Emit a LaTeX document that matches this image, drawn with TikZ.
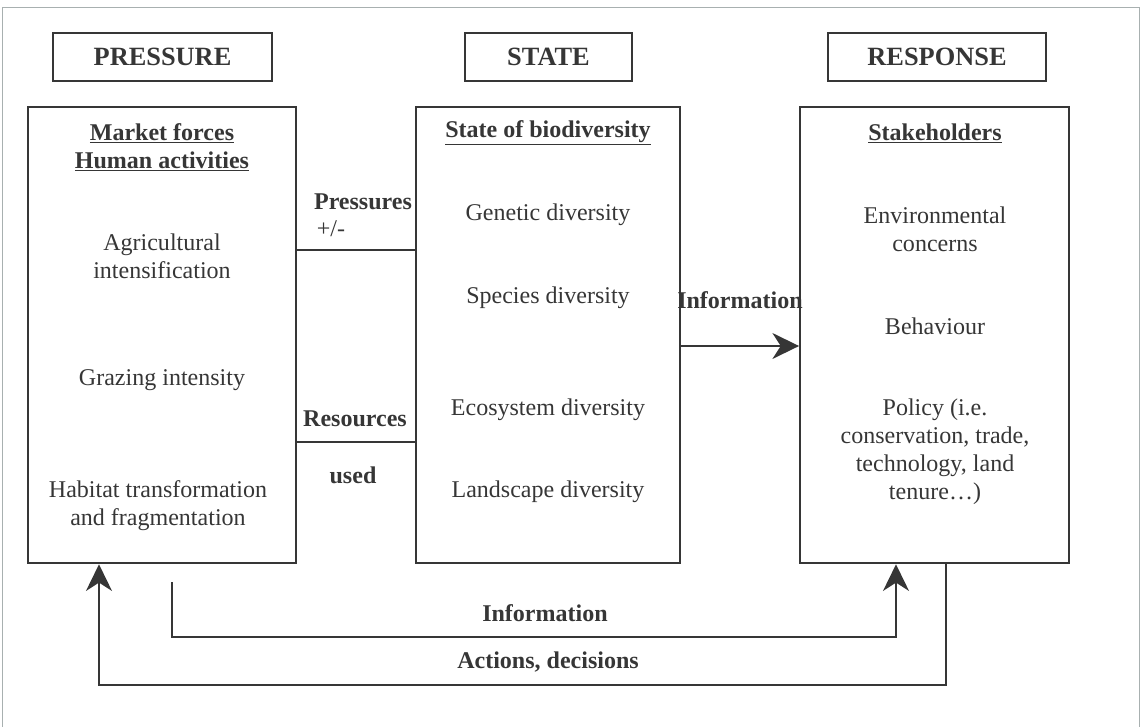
\documentclass[tikz,border=0pt]{standalone}
\usepackage{fontspec}
\setmainfont{Liberation Serif}
\usetikzlibrary{arrows.meta}
\definecolor{ink}{HTML}{363636}
\definecolor{frame}{HTML}{A8B0B0}
\begin{document}
\begin{tikzpicture}[x=0.03cm,y=-0.03cm,
    hdr/.style={draw=ink, line width=1.6pt, minimum height=1.44cm, inner sep=0pt,
                font=\fontsize{22.5}{26}\selectfont\bfseries, text=ink},
    box/.style={draw=ink, line width=1.6pt, minimum height=13.7cm, inner sep=0pt},
    txt/.style={align=center, text=ink, inner sep=1pt, font=\fontsize{20.5}{24}\selectfont},
    lbl/.style={txt, font=\fontsize{20.5}{24}\selectfont\bfseries},
    link/.style={draw=ink, line width=1.3pt},
    arr/.style={link, -{Stealth[length=0.8cm, width=0.78cm, inset=0.25cm]}}]
    \useasboundingbox (0,0) rectangle (1142,727);
    % Outer frame of the figure
    \draw[frame, line width=0.8pt] (2,727) -- (2,7) -- (1139,7) -- (1139,727);

    % Headers
    \node[hdr, minimum width=6.57cm] (hpres) at (162.5,57) {PRESSURE};
    \node[hdr, minimum width=5.01cm] (hstat) at (548.5,57) {STATE};
    \node[hdr, minimum width=6.54cm] (hresp) at (937,57) {RESPONSE};

    % Main boxes
    \node[box, minimum width=8.04cm] (pres) at (162,335) {};
    \node[box, minimum width=7.92cm] (stat) at (548,335) {};
    \node[box, minimum width=8.07cm] (resp) at (934.5,335) {};

    % Pressure box
    \node[lbl] (mkt) at (162,147) {\underline{Market forces}\\\underline{Human activities}};
    \node[txt] (agri) at (162,256) {Agricultural\\intensification};
    \node[txt] (graz) at (162,380) {Grazing intensity};
    \node[txt] (habi) at (158,506) {Habitat transformation\\and fragmentation};

    % State box
    \node[lbl] (sbio) at (548,133) {\underline{State of biodiversity}};
    \node[txt] (gene) at (548,215) {Genetic diversity};
    \node[txt] (spec) at (548,298) {Species diversity};
    \node[txt] (ecos) at (548,410) {Ecosystem diversity};
    \node[txt] (land) at (548,492) {Landscape diversity};

    % Response box
    \node[lbl] (stak) at (935,133) {\underline{Stakeholders}};
    \node[txt] (envi) at (935,229) {Environmental\\concerns};
    \node[txt] (beha) at (935,326) {Behaviour};
    \node[txt] (poli) at (935,452) {Policy (i.e.\\conservation, trade,\\technology, land\\tenure\dots)};

    % Links between the boxes
    \coordinate (pl) at (0,250);
    \coordinate (rl) at (0,442);
    \coordinate (il) at (0,346);
    \draw[link] (pres.east |- pl) -- (stat.west |- pl);
    \draw[link] (pres.east |- rl) -- (stat.west |- rl);
    \draw[arr] (stat.east |- il) -- (resp.west |- il);
    \node[lbl] (lpres) at (363,202) {Pressures};
    \node[txt] (lpm) at (331,229) {+/-};
    \node[lbl] (lres) at (355,419) {Resources};
    \node[lbl] (lused) at (353,475) {used};
    \node[lbl] (linf) at (740,300) {Information};

    % Feedback loops
    \coordinate (ia) at (172,582);
    \coordinate (ib) at (896,637);
    \draw[arr] (ia) |- (ib) -- (resp.south -| ib);
    \node[lbl] (linf2) at (545,613) {Information};
    \coordinate (aa) at (946,685);
    \coordinate (ab) at (99,685);
    \draw[arr] (resp.south -| aa) -- (aa) -- (ab) -- (pres.south -| ab);
    \node[lbl] (lact) at (548,662) {Actions, decisions};
\end{tikzpicture}
\end{document}
